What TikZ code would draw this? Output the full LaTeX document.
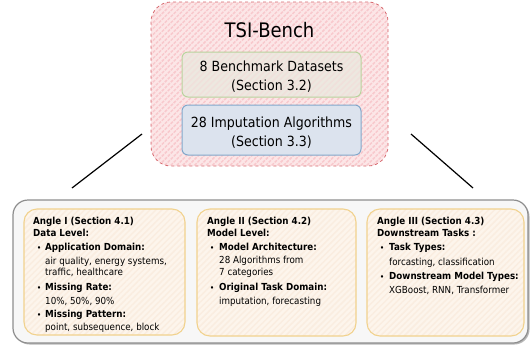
\documentclass[tikz,border=0pt]{standalone}
\usepackage{fontspec}
\setmainfont{DejaVu Sans}[FakeStretch=0.9]
\usetikzlibrary{patterns.meta,shadows}
\definecolor{redline}{HTML}{D76A70}
\definecolor{redfill}{HTML}{FCE6E7}
\definecolor{redstripe}{HTML}{F8C9CD}
\definecolor{greenline}{HTML}{B9D39D}
\definecolor{greenfill}{HTML}{EDE8E0}
\definecolor{bluefill}{HTML}{DCE3EE}
\definecolor{blueline}{HTML}{82A8CB}
\definecolor{angfill}{HTML}{FDF5EC}
\definecolor{angstripe}{HTML}{FAEDE0}
\definecolor{angline}{HTML}{F1D28E}
\definecolor{grayfill}{HTML}{F7F7F7}
\definecolor{grayline}{HTML}{8E8E8E}
\begin{document}
\begin{tikzpicture}[x=1pt,y=-1pt,
  hatch/.style={pattern={Lines[angle=45,distance=4.2pt,line width=1.5pt]}, pattern color=#1},
  redbox/.style={draw=redline, dashed, line width=0.8pt, rounded corners=20pt, preaction={fill=redfill}, hatch=redstripe},
  greenbox/.style={draw=greenline, line width=1pt, rounded corners=6pt, preaction={fill=greenfill}, hatch=redstripe!25!greenfill},
  bluebox/.style={draw=blueline, line width=1pt, rounded corners=6pt, fill=bluefill},
  graybox/.style={draw=grayline, line width=1.2pt, rounded corners=15pt, fill=grayfill, drop shadow={shadow xshift=1.5pt, shadow yshift=-1.5pt, fill=gray!70, opacity=0.8}},
  angbox/.style={draw=angline, line width=1.1pt, rounded corners=13pt, preaction={fill=angfill}, hatch=angstripe},
  box/.style={inner sep=0pt, outer sep=0pt},
  big/.style={anchor=base, inner sep=0pt, font=\fontsize{14}{16}\selectfont},
  txt/.style={anchor=base west, inner sep=0pt, font=\fontsize{9.7}{11}\selectfont},
  btxt/.style={txt, font=\fontsize{9.7}{11}\selectfont\bfseries},
  bul/.style={anchor=base west, inner sep=0pt, font=\fontsize{7}{8}\selectfont\bfseries},
  conn/.style={draw=black, line width=1.2pt}
]
\useasboundingbox (0,0) rectangle (532,348);

% top box
\node[box, redbox, minimum width=237pt, minimum height=164pt] (tsi) at (269.5,84) {};
\node[anchor=base, inner sep=0pt, font=\fontsize{20}{22}\selectfont] (title) at (269.5,37) {TSI-Bench};
\node[box, greenbox, minimum width=179pt, minimum height=45pt] (data) at (271.5,74.5) {};
\node[big] (d1) at (271.5,71) {8 Benchmark Datasets};
\node[big] (d2) at (271.5,90) {(Section 3.2)};
\node[box, bluebox, minimum width=179pt, minimum height=50pt] (algo) at (271.5,130) {};
\node[big] (a1) at (271.5,127) {28 Imputation Algorithms};
\node[big] (a2) at (271.5,146) {(Section 3.3)};

% connectors
\coordinate (L1) at (142,134);
\coordinate (L2) at (72,188);
\coordinate (R1) at (411,134);
\coordinate (R2) at (473,188);
\draw[conn] (L1) -- (L2);
\draw[conn] (R1) -- (R2);

% bottom container
\node[box, graybox, minimum width=515pt, minimum height=143pt] (angles) at (270.5,271.5) {};

% Angle I
\node[box, angbox, minimum width=161pt, minimum height=126pt] (ang1) at (104.5,272) {};
\node[btxt] (a1t) at (33,224) {Angle I (Section 4.1)};
\node[btxt] (a1l) at (33,236) {Data Level:};
\node[bul] (a1b1) at (37,250) {•};
\node[btxt] (a1h1) at (45,250) {Application Domain:};
\node[txt] (a1s1) at (45,264) {air quality, energy systems,};
\node[txt] (a1s2) at (45,275.5) {traffic, healthcare};
\node[bul] (a1b2) at (37,290) {•};
\node[btxt] (a1h2) at (45,290) {Missing Rate:};
\node[txt] (a1s3) at (45,304) {10\%, 50\%, 90\%};
\node[bul] (a1b3) at (37,317) {•};
\node[btxt] (a1h3) at (45,317) {Missing Pattern:};
\node[txt] (a1s4) at (45,330.5) {point, subsequence, block};

% Angle II
\node[box, angbox, minimum width=159pt, minimum height=127pt] (ang2) at (276.5,272.5) {};
\node[btxt] (a2t) at (207,224) {Angle II (Section 4.2)};
\node[btxt] (a2l) at (207,236) {Model Level:};
\node[bul] (a2b1) at (210,250) {•};
\node[btxt] (a2h1) at (219,250) {Model Architecture:};
\node[txt] (a2s1) at (219,263.5) {28 Algorithms from};
\node[txt] (a2s2) at (219,275.5) {7 categories};
\node[bul] (a2b2) at (210,290) {•};
\node[btxt] (a2h2) at (219,290) {Original Task Domain:};
\node[txt] (a2s3) at (219,304) {imputation, forecasting};

% Angle III
\node[box, angbox, minimum width=157pt, minimum height=127pt] (ang3) at (445.5,272.5) {};
\node[btxt] (a3t) at (377,224) {Angle III (Section 4.3)};
\node[btxt] (a3l) at (377,236) {Downstream Tasks :};
\node[bul] (a3b1) at (380,250) {•};
\node[btxt] (a3h1) at (389,250) {Task Types:};
\node[txt] (a3s1) at (389,265) {forcasting, classification};
\node[bul] (a3b2) at (380,279) {•};
\node[btxt] (a3h2) at (389,279) {Downstream Model Types:};
\node[txt] (a3s2) at (389,293) {XGBoost, RNN, Transformer};
\end{tikzpicture}
\end{document}
